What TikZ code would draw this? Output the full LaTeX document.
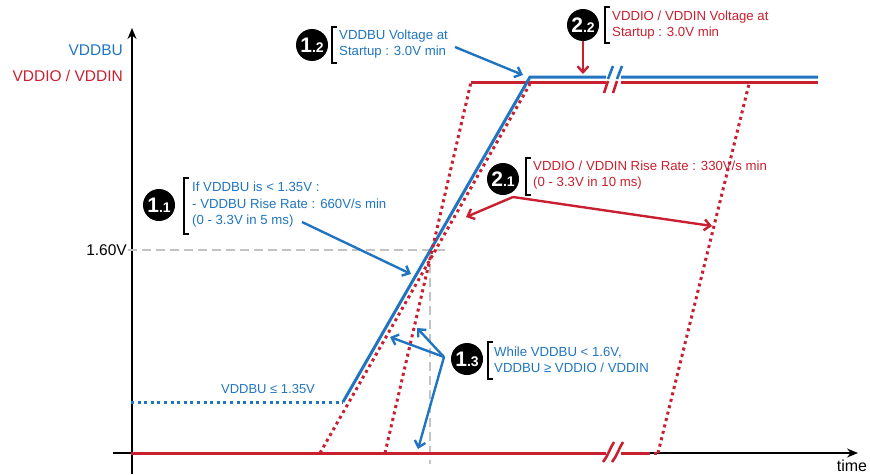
\documentclass[tikz,border=0pt]{standalone}
\usepackage{fontspec}
\setmainfont{Liberation Sans}
\usetikzlibrary{arrows.meta}
\definecolor{vbu}{RGB}{33,117,192}
\definecolor{vio}{RGB}{200,32,48}
\definecolor{dgray}{RGB}{195,195,195}
\begin{document}
\begin{tikzpicture}[x=1pt,y=-1pt,
  sig/.style={line width=3pt},
  dotsig/.style={line width=3pt,dash pattern=on 3pt off 3.6pt},
  ann/.style={font=\fontsize{13.2}{16.5}\selectfont,align=left,anchor=west,inner sep=0pt},
  axlab/.style={font=\fontsize{15.5}{18}\selectfont,inner sep=0pt},
  badge/.style={circle,fill=black,minimum size=32pt,inner sep=0pt,text=white,font=\bfseries},
  arr/.style={line width=2.4pt,-{Straight Barb[length=6pt,width=11pt]}},
  brk/.style={line width=2.6pt},
  gdash/.style={dgray,line width=1.5pt,dash pattern=on 9pt off 5pt}]
\useasboundingbox (0,0) rectangle (870,474);
% axes
\coordinate (yb) at (132,474);
\coordinate (yt) at (132,28);
\coordinate (xl) at (113,453);
\coordinate (xr) at (858,453);
\draw[line width=1.4pt,-{Stealth[length=11pt,width=9pt]}] (yb) -- (yt);
\draw[line width=1.4pt,-{Stealth[length=11pt,width=9pt]}] (xl) -- (xr);
\node[axlab,anchor=east,text=vbu] (lbu) at (123,50) {VDDBU};
\node[axlab,anchor=east,text=vio] (lio) at (123,76) {VDDIO / VDDIN};
\node[axlab,anchor=east] (l160) at (127,250) {1.60V};
\node[font=\fontsize{16}{18}\selectfont,inner sep=0pt] (ltime) at (852,466) {time};
% dashed guides
\coordinate (ga) at (128,250);
\coordinate (gb) at (450,250);
\coordinate (gc) at (430,250);
\coordinate (gd) at (430,464);
\draw[gdash] (ga) -- (gb);
\draw[gdash] (gc) -- (gd);
% red baseline
\coordinate (rb0) at (131,453);
\coordinate (rb1) at (647,453);
\coordinate (rb2) at (658,453);
\draw[vio,sig] (rb0) -- (rb1);
\draw[vio,dotsig] (rb1) -- (rb2);
% red top rail
\coordinate (rt0) at (471,82);
\coordinate (rt1) at (818,82);
\draw[vio,sig] (rt0) -- (rt1);
% blue top rail and rise
\coordinate (bl0) at (131,402);
\coordinate (bl1) at (343,402);
\coordinate (bl2) at (530,77);
\coordinate (bl3) at (818,77);
\draw[vbu,dotsig] (bl0) -- (bl1);
\draw[vbu,sig] (bl1) -- (bl2) -- (bl3);
% red dotted ramps
\coordinate (ra0) at (320,453);
\coordinate (ra1) at (530,84);
\coordinate (rc0) at (385,453);
\coordinate (rc1) at (471,82);
\coordinate (rd0) at (658,453);
\coordinate (rd1) at (749,84);
\draw[vio,dotsig] (ra0) -- (ra1);
\draw[vio,dotsig] (rc0) -- (rc1);
\draw[vio,dotsig] (rd0) -- (rd1);
% top break
\fill[white] (606,70) rectangle (621,89);
\draw[vio,brk] (604,93) -- (608,81);
\draw[vbu,brk] (608,79) -- (613,66);
\draw[vio,brk] (613,93) -- (617,81);
\draw[vbu,brk] (617,79) -- (622,66);
% bottom break
\fill[white] (606,446) rectangle (621,460);
\draw[vio,brk] (603,462) .. controls (608,456) and (610,448) .. (614,442);
\draw[vio,brk] (612,462) .. controls (617,456) and (619,448) .. (623,442);
% annotation 1.2
\node[badge] (b12) at (312,45) {\fontsize{21}{21}\selectfont 1\fontsize{14}{14}\selectfont .2};
\draw[line width=2.4pt] (337,27) -- (332,27) -- (332,63) -- (337,63);
\node[ann,text=vbu] (t12) at (339,44) {VDDBU Voltage at\\Startup : 3.0V min};
\coordinate (a12s) at (455,47);
\coordinate (a12e) at (523,75);
\draw[vbu,arr] (a12s) -- (a12e);
% annotation 2.2
\node[badge] (b22) at (583,25) {\fontsize{21}{21}\selectfont 2\fontsize{14}{14}\selectfont .2};
\draw[line width=2.4pt] (610,7) -- (605,7) -- (605,43) -- (610,43);
\node[ann,text=vio] (t22) at (612,25) {VDDIO / VDDIN Voltage at\\Startup : 3.0V min};
\coordinate (a22e) at (583,74);
\draw[vio,arr] (b22.south) -- (a22e);
% annotation 1.1
\node[badge] (b11) at (159,205) {\fontsize{21}{21}\selectfont 1\fontsize{14}{14}\selectfont .1};
\draw[line width=2.4pt] (189,178) -- (184,178) -- (184,234) -- (189,234);
\node[ann,text=vbu] (t11) at (192,205) {If VDDBU is < 1.35V :\\- VDDBU Rise Rate : 660V/s min\\(0 - 3.3V in 5 ms)};
\coordinate (a11s) at (302,222);
\coordinate (a11e) at (411,274);
\draw[vbu,arr] (a11s) -- (a11e);
% annotation 2.1
\node[badge] (b21) at (503,179) {\fontsize{21}{21}\selectfont 2\fontsize{14}{14}\selectfont .1};
\draw[line width=2.4pt] (531,158) -- (526,158) -- (526,195) -- (531,195);
\node[ann,text=vio] (t21) at (533,175) {VDDIO / VDDIN Rise Rate : 330V/s min\\(0 - 3.3V in 10 ms)};
\coordinate (a21s) at (513,197);
\coordinate (a21a) at (466,217);
\coordinate (a21b) at (712,226);
\draw[vio,arr] (a21s) -- (a21a);
\draw[vio,arr] (a21s) -- (a21b);
% annotation 1.3
\node[badge] (b13) at (467,359) {\fontsize{21}{21}\selectfont 1\fontsize{14}{14}\selectfont .3};
\draw[line width=2.4pt] (493,342) -- (488,342) -- (488,379) -- (493,379);
\node[ann,text=vbu] (t13) at (494,360) {While VDDBU < 1.6V,\\VDDBU ≥ VDDIO / VDDIN};
\coordinate (a13s) at (444,357);
\coordinate (a13a) at (390,337);
\coordinate (a13b) at (417,328);
\coordinate (a13c) at (418,449);
\draw[vbu,arr] (a13s) -- (a13a);
\draw[vbu,arr] (a13s) -- (a13b);
\draw[vbu,arr] (a13s) -- (a13c);
% VDDBU <= 1.35V
\node[font=\fontsize{13}{15}\selectfont,text=vbu,inner sep=0pt] (l135) at (268,389) {VDDBU ≤ 1.35V};
\end{tikzpicture}
\end{document}
